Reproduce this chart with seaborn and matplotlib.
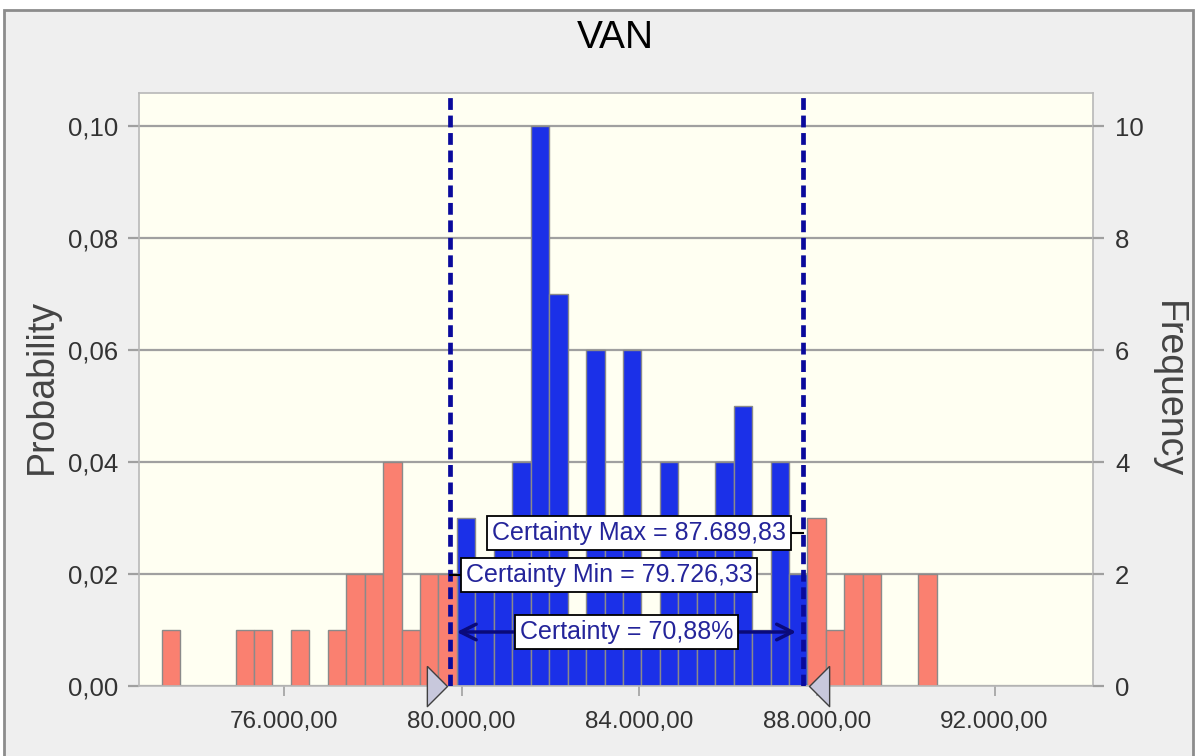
import numpy as np
import pandas as pd
import matplotlib.pyplot as plt
import seaborn as sns
from matplotlib.ticker import FuncFormatter, FixedLocator, MultipleLocator
from matplotlib.patches import Rectangle

# histogram of the simulated VAN (100 trials)
bin_start = 73243.6
bin_width = 415.5
freq = [1, 0, 0, 0, 1, 1, 0, 1, 0, 1,
        2, 2, 4, 1, 2, 2, 3, 2, 3, 4,
        10, 7, 1, 6, 3, 6, 1, 4, 3, 3,
        4, 5, 1, 4, 2, 3, 1, 2, 2, 0,
        0, 2]
cert_min = 79726.33
cert_max = 87689.83
cert_pct = 70.88
x_ticks = [76000, 80000, 84000, 88000, 92000]
n_trials = 100

W, H = 1197, 756
fig = plt.figure(figsize=(W / 100, H / 100), dpi=100)
fig.patch.set_facecolor('white')
plt.rcParams['font.family'] = ['Liberation Sans', 'DejaVu Sans']


def es_num(v):
    return f"{v:,.2f}".replace(',', 'X').replace('.', ',').replace('X', '.')


# window panel
fig.add_artist(Rectangle((4 / W, -0.05), (1193 - 4) / W, 1.05 - 10 / H,
                         transform=fig.transFigure, fc='#efefef', ec='#8c8c8c',
                         lw=2, zorder=-5))

ax = fig.add_axes([139 / W, 1 - 686 / H, (1093 - 139) / W, (686 - 93) / H])
ax.set_facecolor('#fffff2')

centers = bin_start + bin_width * (np.arange(len(freq)) + 0.5)
edges = list(bin_start + bin_width * np.arange(len(freq) + 1))
zone = np.where((centers >= cert_min) & (centers <= cert_max), 'in', 'out')
df = pd.DataFrame({'van': centers, 'freq': freq, 'zone': zone})

sns.histplot(df, x='van', weights='freq', hue='zone', bins=edges,
             stat='probability', common_norm=True,
             palette={'in': '#1b30e8', 'out': '#fa8070'}, alpha=1,
             edgecolor='#8a8a8a', linewidth=1, legend=False, ax=ax, zorder=2)

ax.set_xlim(72732, 94216)
ymax = (686 - 93) / 5600
ax.set_ylim(0, ymax)
ax.yaxis.set_major_locator(MultipleLocator(0.02))
ax.xaxis.set_major_locator(FixedLocator(x_ticks))
ax.yaxis.set_major_formatter(FuncFormatter(lambda v, p: f"{v:.2f}".replace('.', ',')))
ax.xaxis.set_major_formatter(FuncFormatter(lambda v, p: es_num(v)))
ax.grid(axis='y', color='#a0a0a0', lw=1.6, zorder=0)
ax.set_axisbelow(True)
ax.set_xlabel('')
ax.set_ylabel('')
for s in ax.spines.values():
    s.set_color('#b8b8b8')
    s.set_linewidth(1.2)
ax.tick_params(axis='y', length=8, width=1.6, color='#a0a0a0', pad=7,
               labelsize=18.5, labelcolor='#333333')
ax.tick_params(axis='x', length=7, width=1.2, color='#a0a0a0', pad=11,
               labelsize=17.5, labelcolor='#333333')

ax2 = ax.twinx()
ax2.set_ylim(0, ymax * n_trials)
ax2.yaxis.set_major_locator(MultipleLocator(2))
ax2.tick_params(axis='y', length=8, width=1.6, color='#a0a0a0', pad=8,
                labelsize=18.5, labelcolor='#333333')
for s in ax2.spines.values():
    s.set_visible(False)

# certainty lines
for xv in (cert_min, cert_max):
    ax.axvline(xv, color='#0a0a9c', lw=3.4, dashes=(2.5, 1.2), zorder=3)

# grabber triangles
tri_r = [(-1, 1), (0, 0), (-1, -1), (-1, 1)]
tri_l = [(1, 1), (0, 0), (1, -1), (1, 1)]
ax.plot([cert_min - 60], [0.0], marker=tri_r, ms=29, mfc='#c8c8dc', mec='#404040',
        mew=1, clip_on=False, zorder=6, ls='none')
ax.plot([cert_max + 120], [0.0], marker=tri_l, ms=29, mfc='#c8c8dc', mec='#404040',
        mew=1, clip_on=False, zorder=6, ls='none')

# labels
box = dict(boxstyle='square,pad=0.2', fc='white', ec='black', lw=1.3)
lab_col = '#24249a'
lab_size = 18
y_max_lab = (686 - 533) / 5600
y_min_lab = (686 - 575) / 5600
y_pct_lab = (686 - 632) / 5600
ax.plot([83981, cert_max], [y_max_lab, y_max_lab], color='black', lw=1.5, zorder=4)
ax.plot([83317, cert_min], [y_min_lab, y_min_lab], color='black', lw=1.5, zorder=4)
ax.text(83981, y_max_lab, "Certainty Max = " + es_num(cert_max),
        ha='center', va='center', fontsize=lab_size, color=lab_col,
        bbox=box, zorder=7)
ax.text(83317, y_min_lab, "Certainty Min = " + es_num(cert_min),
        ha='center', va='center', fontsize=lab_size, color=lab_col,
        bbox=box, zorder=7)
ax.annotate('', xy=(cert_max - 160, y_pct_lab), xytext=(cert_min + 160, y_pct_lab),
            arrowprops=dict(arrowstyle='<->', color='#0a0a7a', lw=2.5,
                            mutation_scale=28, shrinkA=0, shrinkB=0), zorder=5)
ax.text((cert_min + cert_max) / 2, y_pct_lab, f"Certainty = {cert_pct:.2f}%".replace('.', ','),
        ha='center', va='center', fontsize=lab_size, color=lab_col,
        bbox=box, zorder=7)

fig.text(615 / W, 1 - 38 / H, 'VAN', ha='center', va='center', fontsize=28,
         color='black')
fig.text(42 / W, 1 - 387 / H, 'Probability', rotation=90, ha='center', va='center',
         fontsize=27, color='#444444')
fig.text(1168 / W, 1 - 390 / H, 'Frequency', rotation=270, ha='center', va='center',
         fontsize=27, color='#444444')

fig.savefig('out.png', dpi=100)
